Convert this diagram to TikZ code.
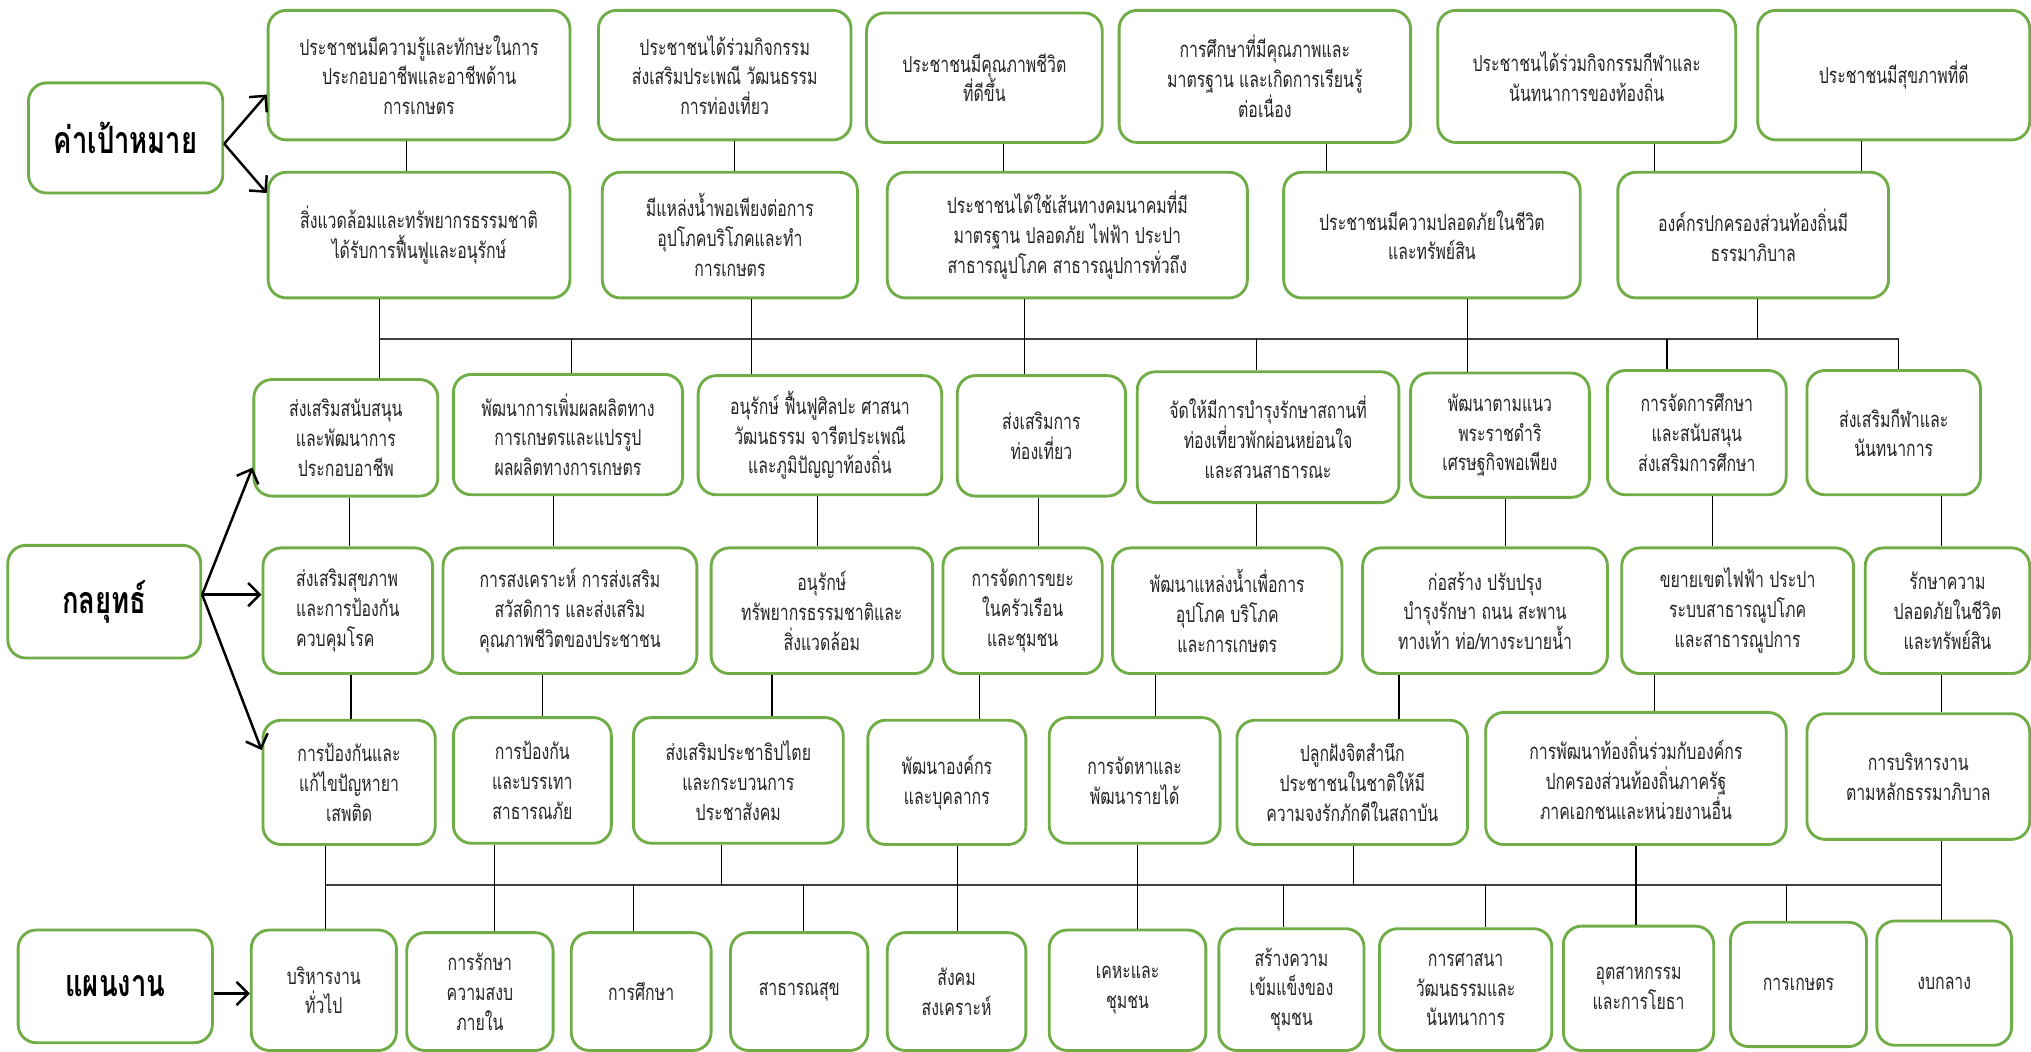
\documentclass[tikz,border=0pt]{standalone}
\usepackage{fontspec}
\newfontfamily\thaifont[Script=Thai,FakeStretch=0.72]{Loma}
\newfontfamily\thaititle[Script=Thai,FakeStretch=0.73]{Loma}
\usetikzlibrary{arrows.meta}
\definecolor{gborder}{HTML}{70AD47}
\definecolor{txt}{HTML}{262626}
\newcommand{\gbox}[6][]{%
  \node[box,#1,minimum width={(#4-#2)*1pt},minimum height={(#5-#3)*1pt}]
    at ({(#2+#4)/2},{(#3+#5)/2}) {#6};}
\begin{document}
\begin{tikzpicture}[x=1pt,y=-1pt,
  box/.style={draw=gborder,line width=2.2pt,rounded corners=14pt,fill=white,
    align=center,inner sep=1pt,text=txt,font=\thaifont\fontsize{17}{23}\selectfont},
  title/.style={box,font=\thaititle\bfseries\fontsize{29}{32}\selectfont,text=black},
  conn/.style={line width=0.9pt,draw=black},
  bus/.style={line width=1.6pt,draw=black!75},
  arr/.style={line width=1.9pt,draw=black,-{Straight Barb[length=9pt,width=18pt,line width=1.9pt]}}]
\useasboundingbox (0,0) rectangle (1568,812);
\fill[white] (0,0) rectangle (1568,812);

% ---- titles
\gbox[title,name=goal]{22}{64}{172}{149}{ค่าเป้าหมาย}
\gbox[title,name=strat]{6}{421}{155}{508}{กลยุทธ์}
\gbox[title,name=plan]{14}{718}{164}{805}{แผนงาน}

% ---- row A
\gbox[name=A1]{207}{8}{440}{108}{ประชาชนมีความรู้และทักษะในการ\\ประกอบอาชีพและอาชีพด้าน\\การเกษตร}
\gbox[name=A2]{462}{8}{657}{108}{ประชาชนได้ร่วมกิจกรรม\\ส่งเสริมประเพณี วัฒนธรรม\\การท่องเที่ยว}
\gbox[name=A3]{669}{10}{851}{110}{ประชาชนมีคุณภาพชีวิต\\ที่ดีขึ้น}
\gbox[name=A4]{864}{8}{1089}{110}{การศึกษาที่มีคุณภาพและ\\มาตรฐาน และเกิดการเรียนรู้\\ต่อเนื่อง}
\gbox[name=A5]{1110}{8}{1340}{110}{ประชาชนได้ร่วมกิจกรรมกีฬาและ\\นันทนาการของท้องถิ่น}
\gbox[name=A6]{1357}{8}{1567}{108}{ประชาชนมีสุขภาพที่ดี}

% ---- row B
\gbox[name=B1]{207}{133}{440}{230}{สิ่งแวดล้อมและทรัพยากรธรรมชาติ\\ได้รับการฟื้นฟูและอนุรักษ์}
\gbox[name=B2]{465}{133}{662}{230}{มีแหล่งน้ำพอเพียงต่อการ\\อุปโภคบริโภคและทำ\\การเกษตร}
\gbox[name=B3]{685}{133}{963}{230}{ประชาชนได้ใช้เส้นทางคมนาคมที่มี\\มาตรฐาน ปลอดภัย ไฟฟ้า ประปา\\สาธารณูปโภค สาธารณูปการทั่วถึง}
\gbox[name=B4]{991}{133}{1220}{230}{ประชาชนมีความปลอดภัยในชีวิต\\และทรัพย์สิน}
\gbox[name=B5]{1249}{133}{1458}{230}{องค์กรปกครองส่วนท้องถิ่นมี\\ธรรมาภิบาล}

% ---- row C
\gbox[name=C1]{196}{293}{338}{383}{ส่งเสริมสนับสนุน\\และพัฒนาการ\\ประกอบอาชีพ}
\gbox[name=C2]{350}{289}{527}{382}{พัฒนาการเพิ่มผลผลิตทาง\\การเกษตรและแปรรูป\\ผลผลิตทางการเกษตร}
\gbox[name=C3]{539}{290}{727}{382}{อนุรักษ์ ฟื้นฟูศิลปะ ศาสนา\\วัฒนธรรม จารีตประเพณี\\และภูมิปัญญาท้องถิ่น}
\gbox[name=C4]{739}{290}{869}{383}{ส่งเสริมการ\\ท่องเที่ยว}
\gbox[name=C5]{878}{287}{1080}{388}{จัดให้มีการบำรุงรักษาสถานที่\\ท่องเที่ยวพักผ่อนหย่อนใจ\\และสวนสาธารณะ}
\gbox[name=C6]{1089}{288}{1227}{384}{พัฒนาตามแนว\\พระราชดำริ\\เศรษฐกิจพอเพียง}
\gbox[name=C7]{1241}{286}{1379}{382}{การจัดการศึกษา\\และสนับสนุน\\ส่งเสริมการศึกษา}
\gbox[name=C8]{1395}{286}{1529}{382}{ส่งเสริมกีฬาและ\\นันทนาการ}

% ---- row D
\gbox[name=D1,align=left]{203}{423}{334}{520}{ส่งเสริมสุขภาพ\\และการป้องกัน\\ควบคุมโรค}
\gbox[name=D2]{342}{423}{538}{520}{การสงเคราะห์ การส่งเสริม\\สวัสดิการ และส่งเสริม\\คุณภาพชีวิตของประชาชน}
\gbox[name=D3]{549}{423}{720}{520}{อนุรักษ์\\ทรัพยากรธรรมชาติและ\\สิ่งแวดล้อม}
\gbox[name=D4]{728}{423}{851}{520}{การจัดการขยะ\\ในครัวเรือน\\และชุมชน}
\gbox[name=D5]{859}{423}{1036}{520}{พัฒนาแหล่งน้ำเพื่อการ\\อุปโภค บริโภค\\และการเกษตร}
\gbox[name=D6]{1052}{423}{1241}{520}{ก่อสร้าง ปรับปรุง\\บำรุงรักษา ถนน สะพาน\\ทางเท้า ท่อ/ทางระบายน้ำ}
\gbox[name=D7]{1252}{423}{1431}{520}{ขยายเขตไฟฟ้า ประปา\\ระบบสาธารณูปโภค\\และสาธารณูปการ}
\gbox[name=D8]{1440}{423}{1567}{520}{รักษาความ\\ปลอดภัยในชีวิต\\และทรัพย์สิน}

% ---- row E
\gbox[name=E1]{203}{556}{336}{652}{การป้องกันและ\\แก้ไขปัญหายา\\เสพติด}
\gbox[name=E2]{350}{554}{472}{651}{การป้องกัน\\และบรรเทา\\สาธารณภัย}
\gbox[name=E3]{489}{554}{651}{651}{ส่งเสริมประชาธิปไตย\\และกระบวนการ\\ประชาสังคม}
\gbox[name=E4]{670}{556}{792}{652}{พัฒนาองค์กร\\และบุคลากร}
\gbox[name=E5]{810}{554}{942}{651}{การจัดหาและ\\พัฒนารายได้}
\gbox[name=E6]{955}{556}{1133}{652}{ปลูกฝังจิตสำนึก\\ประชาชนในชาติให้มี\\ความจงรักภักดีในสถาบัน}
\gbox[name=E7]{1147}{550}{1379}{652}{การพัฒนาท้องถิ่นร่วมกับองค์กร\\ปกครองส่วนท้องถิ่นภาครัฐ\\ภาคเอกชนและหน่วยงานอื่น}
\gbox[name=E8]{1395}{551}{1567}{648}{การบริหารงาน\\ตามหลักธรรมาภิบาล}

% ---- row F
\gbox[name=F1]{194}{718}{306}{811}{บริหารงาน\\ทั่วไป}
\gbox[name=F2]{314}{720}{427}{811}{การรักษา\\ความสงบ\\ภายใน}
\gbox[name=F3]{441}{720}{549}{811}{การศึกษา}
\gbox[name=F4]{564}{720}{670}{811}{สาธารณสุข}
\gbox[name=F5]{685}{720}{792}{811}{สังคม\\สงเคราะห์}
\gbox[name=F6]{810}{718}{931}{811}{เคหะและ\\ชุมชน}
\gbox[name=F7]{941}{717}{1053}{811}{สร้างความ\\เข้มแข็งของ\\ชุมชน}
\gbox[name=F8]{1065}{717}{1198}{811}{การศาสนา\\วัฒนธรรมและ\\นันทนาการ}
\gbox[name=F9]{1207}{715}{1323}{811}{อุตสาหกรรม\\และการโยธา}
\gbox[name=F10]{1336}{712}{1441}{808}{การเกษตร}
\gbox[name=F11]{1449}{711}{1553}{807}{งบกลาง}

% ---- arrows
\draw[arr] (goal.east |- 0,111) -- (A1.west |- 0,73);
\draw[arr] (goal.east |- 0,111) -- (B1.west |- 0,149);
\draw[arr] (strat.east |- 0,459) -- (C1.west |- 0,361);
\draw[arr] (strat.east |- 0,459) -- (D1.west |- 0,459);
\draw[arr] (strat.east |- 0,459) -- (E1.west |- 0,579);
\draw[arr] (plan.east |- 0,767) -- (F1.west |- 0,767);

% ---- A -> B
\draw[conn] (A1.south -| 314,0) -- (B1.north -| 314,0);
\draw[conn] (A2.south -| 567,0) -- (B2.north -| 567,0);
\draw[conn] (A3.south -| 775,0) -- (B3.north -| 775,0);
\draw[conn] (A4.south -| 1024,0) -- (B4.north -| 1024,0);
\draw[conn] (A5.south -| 1277,0) -- (B5.north -| 1277,0);
\draw[conn] (A6.south -| 1437,0) -- (B5.north -| 1437,0);

% ---- bus 1
\coordinate (bus1L) at (293,262);
\coordinate (bus1R) at (1466,262);
\draw[bus] (bus1L) -- (bus1R);
\foreach \n/\x in {B1/293,B2/580,B3/791,B4/1133,B5/1357}
  \draw[conn] (\n.south -| \x,0) -- (bus1L -| \x,0);
\foreach \n/\x in {C1/293,C2/441,C3/580,C4/791,C5/970,C6/1133,C7/1287,C8/1466}
  \draw[conn] (bus1L -| \x,0) -- (\n.north -| \x,0);

% ---- C -> D
\foreach \a/\b/\x in {C1/D1/270,C2/D2/427,C3/D3/631,C4/D4/802,C5/D5/970,C6/D6/1162,C7/D7/1322,C8/D8/1499}
  \draw[conn] (\a.south -| \x,0) -- (\b.north -| \x,0);

% ---- D -> E
\foreach \a/\b/\x in {D1/E1/271,D2/E2/419,D3/E3/596,D4/E4/756,D5/E5/892,D6/E6/1080,D7/E7/1277,D8/E8/1499}
  \draw[conn] (\a.south -| \x,0) -- (\b.north -| \x,0);

% ---- bus 2
\coordinate (bus2L) at (251,683);
\coordinate (bus2R) at (1499,683);
\draw[bus] (bus2L) -- (bus2R);
\foreach \n/\x in {E1/251,E2/382,E3/557,E4/739,E5/878,E6/1045,E7/1263,E8/1499}
  \draw[conn] (\n.south -| \x,0) -- (bus2L -| \x,0);
\foreach \n/\x in {F1/251,F2/382,F3/489,F4/620,F5/739,F6/878,F7/991,F8/1147,F9/1263,F10/1379,F11/1499}
  \draw[conn] (bus2L -| \x,0) -- (\n.north -| \x,0);
\end{tikzpicture}
\end{document}
